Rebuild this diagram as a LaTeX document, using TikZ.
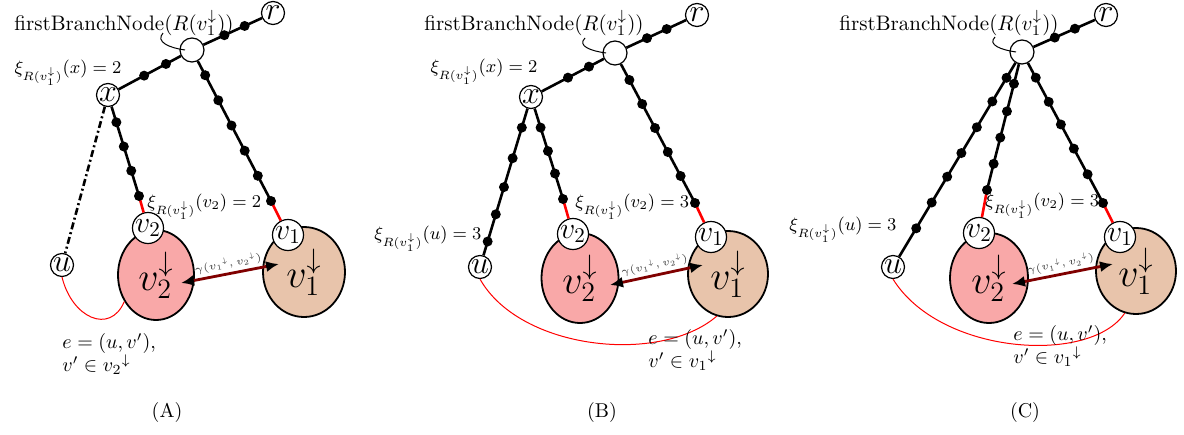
\RequirePackage{fix-cm}
\documentclass[tikz,border=0pt]{standalone}
\usetikzlibrary{shapes.geometric,arrows.meta,calc}
\definecolor{blobred}{RGB}{249,168,168}
\definecolor{blobtan}{RGB}{232,196,171}
\definecolor{gamred}{RGB}{128,0,0}
\begin{document}
\begin{tikzpicture}[x=0.5pt,y=-0.5pt,
  vtx/.style={circle,draw,fill=white,inner sep=0pt,line width=0.6pt,minimum size=11.5pt,font=\fontsize{16}{16}\selectfont},
  subv/.style={circle,draw,fill=white,inner sep=0pt,line width=0.6pt,minimum size=13.5pt,font=\fontsize{15}{15}\selectfont},
  fbn/.style={circle,draw,fill=white,inner sep=0pt,line width=0.6pt,minimum size=12pt},
  blobA/.style={ellipse,draw,line width=0.9pt,fill=blobred,inner sep=0pt,font=\fontsize{20}{20}\selectfont},
  blobB/.style={ellipse,draw,line width=0.9pt,fill=blobtan,inner sep=0pt,font=\fontsize{20}{20}\selectfont},
  bdot/.style={circle,fill=black,inner sep=0pt,minimum size=5pt},
  tpath/.style={line width=1.3pt},
  rseg/.style={red,line width=1.3pt},
  ecurve/.style={red,line width=0.5pt},
  gam/.style={gamred,line width=1.4pt,{Latex[length=6.5pt,width=5.5pt,color=black]}-{Latex[length=6.5pt,width=5.5pt,color=black]}},
  glab/.style={font=\fontsize{5.3}{6}\selectfont,text=black!80,sloped,above,inner sep=1.5pt},
  xilab/.style={font=\fontsize{9}{10}\selectfont,inner sep=0pt},
  mainlab/.style={font=\fontsize{10.5}{12}\selectfont,inner sep=0pt},
  caplab/.style={font=\fontsize{10}{12}\selectfont,inner sep=0pt},
  elab/.style={font=\fontsize{10}{11.5}\selectfont,align=left,inner sep=0pt,anchor=west},
  ptr/.style={line width=0.5pt},
  ddash/.style={line width=1.3pt,dash pattern=on 3.5pt off 1.5pt on 1pt off 1.5pt},
]
\useasboundingbox (0,0) rectangle (1184,434);

% ================= Panel A =================
\node[vtx] (rA) at (273,13) {$r$};
\node[fbn] (fbA) at (192,50) {};
\node[vtx] (xA) at (108,95) {$x$};
\node[vtx] (uA) at (62,265) {$u$};
\node[blobA,minimum width=38pt,minimum height=45pt] (v2dA) at (156,275) {$v_2^{\downarrow}$};
\node[blobB,minimum width=41pt,minimum height=45pt] (v1dA) at (304,272) {$v_1^{\downarrow}$};
\node[subv] (v2A) at (148,228) {$v_2$};
\node[subv] (v1A) at (288,235) {$v_1$};
\coordinate (jA2) at (139,196);
\coordinate (jA1) at (271,201);
\draw[tpath] (fbA) -- (rA);
\draw[tpath] (fbA) -- (xA);
\draw[tpath] (xA) -- (jA2);
\draw[rseg] (jA2) -- (v2A);
\draw[tpath] (fbA) -- (jA1);
\draw[rseg] (jA1) -- (v1A);
\draw[ddash] (xA) -- (uA);
\foreach \t in {0.4,0.65} \node[bdot] at ($(fbA)!\t!(rA)$) {};
\foreach \t in {0.31,0.57} \node[bdot] at ($(fbA)!\t!(xA)$) {};
\foreach \t in {0.27,0.51,0.75,1} \node[bdot] at ($(xA)!\t!(jA2)$) {};
\foreach \t in {0.167,0.333,0.5,0.667,0.833,1} \node[bdot] at ($(fbA)!\t!(jA1)$) {};
\draw[ptr] ($(fbA)+(-29,-17)$) .. controls ($(fbA)+(-37,-8)$) and ($(fbA)+(-22,-2)$) .. ($(fbA)+(-7,0)$);
\draw[ecurve] (uA.south) .. controls (72,318) and (110,335) .. (v2dA.220);
\coordinate (gA2) at (181,283);
\coordinate (gA1) at (279,264);
\draw[gam] (gA2) -- node[glab] {$\gamma({v_1}^{\downarrow},{v_2}^{\downarrow})$} (gA1);
\node[mainlab] (tA) at (124,23) {firstBranchNode$(R(v_1^{\downarrow}))$};
\node[xilab] (xixA) at (68,73) {$\xi_{R(v_1^{\downarrow})}(x)=2$};
\node[xilab,anchor=west] (xiv2A) at (147,207) {$\xi_{R(v_1^{\downarrow})}(v_2)=2$};
\node[elab] (eA) at (62,354) {$e=(u,v')$,\\$v'\in{v_2}^{\downarrow}$};
\node[caplab] (capA) at (167,412) {(A)};

% ================= Panel B =================
\node[vtx] (rB) at (697,15) {$r$};
\node[fbn] (fbB) at (615,53) {};
\node[vtx] (xB) at (531,97) {$x$};
\node[vtx] (uB) at (480,267) {$u$};
\node[blobA,minimum width=38.5pt,minimum height=45pt] (v2dB) at (580,278) {$v_2^{\downarrow}$};
\node[blobB,minimum width=40pt,minimum height=43pt] (v1dB) at (728,274) {$v_1^{\downarrow}$};
\node[subv] (v2B) at (573,234) {$v_2$};
\node[subv] (v1B) at (711,237) {$v_1$};
\coordinate (jB2) at (563,199);
\coordinate (jB1) at (695,203);
\draw[tpath] (fbB) -- (rB);
\draw[tpath] (fbB) -- (xB);
\draw[tpath] (xB) -- (uB);
\draw[tpath] (xB) -- (jB2);
\draw[rseg] (jB2) -- (v2B);
\draw[tpath] (fbB) -- (jB1);
\draw[rseg] (jB1) -- (v1B);
\foreach \t in {0.39,0.63} \node[bdot] at ($(fbB)!\t!(rB)$) {};
\foreach \t in {0.31,0.56} \node[bdot] at ($(fbB)!\t!(xB)$) {};
\foreach \t in {0.18,0.36,0.53,0.69,0.85} \node[bdot] at ($(xB)!\t!(uB)$) {};
\foreach \t in {0.3,0.53,0.75,1} \node[bdot] at ($(xB)!\t!(jB2)$) {};
\foreach \t in {0.18,0.34,0.5,0.66,0.82,1} \node[bdot] at ($(fbB)!\t!(jB1)$) {};
\draw[ptr] ($(fbB)+(-30,-15)$) .. controls ($(fbB)+(-38,-7)$) and ($(fbB)+(-24,-2)$) .. ($(fbB)+(-9,0)$);
\draw[ecurve] (uB.south) .. controls (520,350) and (660,365) .. (v1dB.255);
\coordinate (gB2) at (610,285);
\coordinate (gB1) at (703,265);
\draw[gam] (gB2) -- node[glab] {$\gamma({v_1}^{\downarrow},{v_2}^{\downarrow})$} (gB1);
\node[mainlab] (tB) at (534,23) {firstBranchNode$(R(v_1^{\downarrow}))$};
\node[xilab] (xixB) at (484,72) {$\xi_{R(v_1^{\downarrow})}(x)=2$};
\node[xilab,anchor=west] (xiv2B) at (575,207) {$\xi_{R(v_1^{\downarrow})}(v_2)=3$};
\node[xilab] (xiuB) at (428,239) {$\xi_{R(v_1^{\downarrow})}(u)=3$};
\node[elab] (eB) at (648,350) {$e=(u,v')$,\\$v'\in{v_1}^{\downarrow}$};
\node[caplab] (capB) at (602,412) {(B)};

% ================= Panel C =================
\node[vtx] (rC) at (1106,15) {$r$};
\node[fbn] (fbC) at (1022,52) {};
\node[vtx] (uC) at (893,267) {$u$};
\node[blobA,minimum width=39pt,minimum height=45pt] (v2dC) at (989,278) {$v_2^{\downarrow}$};
\node[blobB,minimum width=40pt,minimum height=43pt] (v1dC) at (1136,271) {$v_1^{\downarrow}$};
\node[subv] (v2C) at (979,233) {$v_2$};
\node[subv] (v1C) at (1120,237) {$v_1$};
\coordinate (jC2) at (987,190);
\coordinate (jC1) at (1103,203);
\draw[tpath] (fbC) -- (rC);
\draw[tpath] (fbC) -- (uC);
\draw[tpath] (fbC) -- (jC2);
\draw[rseg] (jC2) -- (v2C);
\draw[tpath] (fbC) -- (jC1);
\draw[rseg] (jC1) -- (v1C);
\foreach \t in {0.39,0.63} \node[bdot] at ($(fbC)!\t!(rC)$) {};
\foreach \t in {0.12,0.23,0.35,0.47,0.58,0.70,0.82} \node[bdot] at ($(fbC)!\t!(uC)$) {};
\foreach \t in {0.23,0.43,0.62,0.81,1} \node[bdot] at ($(fbC)!\t!(jC2)$) {};
\foreach \t in {0.17,0.33,0.48,0.64,0.81,1} \node[bdot] at ($(fbC)!\t!(jC1)$) {};
\draw[ptr] ($(fbC)+(-27,-15)$) .. controls ($(fbC)+(-35,-7)$) and ($(fbC)+(-20,-2)$) .. ($(fbC)+(-6,0)$);
\draw[ecurve] (uC.south) .. controls (940,355) and (1090,365) .. (v1dC.255);
\coordinate (gC2) at (1012,284);
\coordinate (gC1) at (1113,264);
\draw[gam] (gC2) -- node[glab] {$\gamma({v_1}^{\downarrow},{v_2}^{\downarrow})$} (gC1);
\node[mainlab] (tC) at (949,23) {firstBranchNode$(R(v_1^{\downarrow}))$};
\node[xilab,anchor=west] (xiv2C) at (985,206) {$\xi_{R(v_1^{\downarrow})}(v_2)=3$};
\node[xilab] (xiuC) at (843,230) {$\xi_{R(v_1^{\downarrow})}(u)=3$};
\node[elab] (eC) at (1013,346) {$e=(u,v')$,\\$v'\in{v_1}^{\downarrow}$};
\node[caplab] (capC) at (1025,412) {(C)};
\end{tikzpicture}
\end{document}
